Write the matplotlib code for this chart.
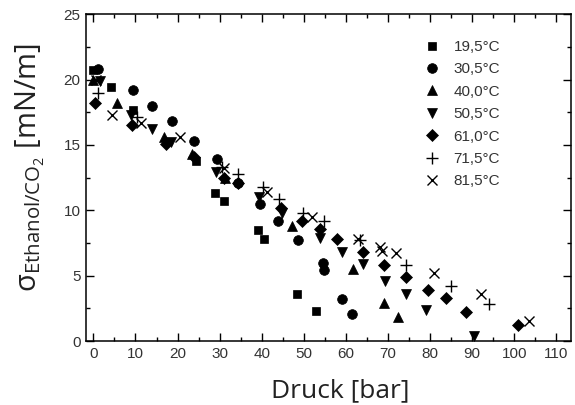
import matplotlib
matplotlib.use('Agg')
import matplotlib.pyplot as plt
from matplotlib.ticker import MultipleLocator

# surface tension ethanol/CO2 vs. pressure
labels = ['19,5°C', '30,5°C', '40,0°C', '50,5°C', '61,0°C', '71,5°C', '81,5°C']
markers = ['s', 'o', '^', 'v', 'D', '+', 'x']

p_195 = [0, 4.3, 9.3, 24.5, 29, 31, 39, 40.5, 48.5, 53]
s_195 = [20.7, 19.4, 17.7, 13.8, 11.3, 10.7, 8.5, 7.8, 3.6, 2.3]

p_305 = [1, 9.5, 14, 18.7, 23.9, 29.4, 34.4, 39.6, 43.8, 48.6, 54.5, 54.7, 59.2, 61.4]
s_305 = [20.8, 19.2, 18.0, 16.8, 15.3, 13.9, 12.1, 10.5, 9.2, 7.7, 6.0, 5.4, 3.2, 2.1]

p_400 = [0, 5.7, 16.8, 23.5, 31.3, 47.2, 61.7, 69, 72.3]
s_400 = [20.0, 18.2, 15.6, 14.3, 12.5, 8.8, 5.5, 2.9, 1.8]

p_505 = [1.5, 9, 14, 18.5, 29.1, 39.3, 44.8, 53.8, 59.2, 64, 69.2, 74.2, 79.1, 90.5]
s_505 = [19.9, 17.3, 16.2, 15.2, 12.9, 11.0, 9.8, 7.9, 6.8, 5.9, 4.6, 3.6, 2.4, 0.4]

p_610 = [0.3, 9.2, 17.3, 24, 31, 34.4, 44.5, 49.5, 53.8, 58, 64, 69, 74.2, 79.6, 83.9, 88.6, 101]
s_610 = [18.2, 16.5, 15.1, 14.1, 12.5, 12.1, 10.2, 9.2, 8.6, 7.8, 6.8, 5.8, 4.9, 3.9, 3.3, 2.2, 1.2]

p_715 = [1, 10.4, 30.5, 34.4, 40.3, 44.1, 49.8, 54.7, 63.3, 74.4, 85, 94]
s_715 = [19, 17.1, 13.3, 12.8, 11.8, 10.9, 9.8, 9.2, 7.7, 5.8, 4.2, 2.8]

p_815 = [0.5, 4.5, 11.4, 20.6, 31, 41.2, 51.9, 63, 68, 68.7, 72, 81, 92.2, 103.6]
s_815 = [20.0, 17.3, 16.7, 15.6, 13.2, 11.4, 9.5, 7.8, 7.2, 6.9, 6.7, 5.2, 3.6, 1.5]

series = [(p_195, s_195), (p_305, s_305), (p_400, s_400), (p_505, s_505),
          (p_610, s_610), (p_715, s_715), (p_815, s_815)]
sizes = [6, 7, 7, 7, 6.5, 8, 7]

plt.rcParams['font.family'] = ['Liberation Sans', 'DejaVu Sans']
plt.rcParams['mathtext.fontset'] = 'custom'
plt.rcParams['mathtext.rm'] = 'Open Sans'
plt.rcParams['mathtext.it'] = 'Open Sans:italic'

fig = plt.figure(figsize=(5.75, 4.05), dpi=100)
ax = fig.add_axes([0.150, 0.158, 0.843, 0.807])

for (p, s), m, lab, ms in zip(series, markers, labels, sizes):
    ax.plot(p, s, linestyle='none', marker=m, color='black', markersize=ms,
            markeredgewidth=1.0 if m in '+x' else 0.5, label=lab)

ax.set_xlim(-1.7, 113.5)
ax.set_ylim(0, 25)
ax.xaxis.set_major_locator(MultipleLocator(10))
ax.xaxis.set_minor_locator(MultipleLocator(5))
ax.yaxis.set_major_locator(MultipleLocator(5))
ax.yaxis.set_minor_locator(MultipleLocator(2.5))
ax.tick_params(which='both', direction='in', top=True, right=True,
               labelsize=11, labelcolor='#333333', width=1)
ax.tick_params(which='major', length=6, pad=4)
ax.tick_params(which='minor', length=3)
for sp in ax.spines.values():
    sp.set_linewidth(1.1)

ax.set_xlabel('Druck [bar]', fontsize=19, family='Open Sans', color='#222222')
ax.set_ylabel(r'σ$_{\mathrm{Ethanol/CO_2}}$ [mN/m]', fontsize=21, family='Open Sans',
              color='#222222')
ax.xaxis.set_label_coords(0.524, -0.115)
ax.yaxis.set_label_coords(-0.082, 0.53)

ax.legend(loc='upper left', bbox_to_anchor=(0.725, 0.92), bbox_transform=fig.transFigure,
          frameon=False, fontsize=11, handlelength=1.0, handletextpad=0.9,
          labelspacing=0.55, numpoints=1, borderpad=0, labelcolor='#333333')

fig.savefig('out.png', dpi=100)
